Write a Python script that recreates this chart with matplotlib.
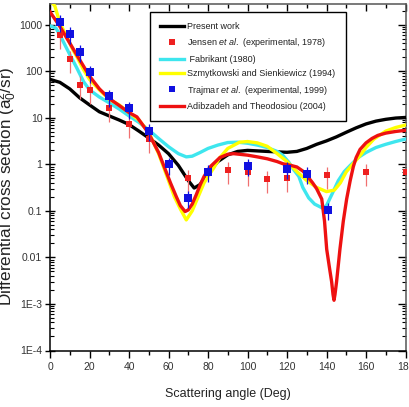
import matplotlib
matplotlib.use("Agg")
import matplotlib.pyplot as plt
from matplotlib.lines import Line2D
from matplotlib.ticker import LogLocator, FixedLocator, NullFormatter, MultipleLocator

plt.rcParams['font.family'] = ['Liberation Sans', 'DejaVu Sans']
plt.rcParams['mathtext.fontset'] = 'custom'
plt.rcParams['mathtext.rm'] = 'Liberation Sans'
plt.rcParams['mathtext.it'] = 'Liberation Sans:italic'

# ---- data ----
present_ang = [0, 5, 10, 15, 20, 25, 30, 35, 40, 45, 50, 55, 60, 65, 70, 73, 76, 80, 85, 90, 95,
               100, 110, 120, 125, 130, 135, 140, 145, 150, 155, 160, 165, 170, 175, 180]
present_val = [67, 58, 42, 27, 19, 13.5, 11, 9, 7.2, 5.2, 3.7, 2.6, 1.7, 0.95, 0.45, 0.31, 0.37, 0.65,
               1.15, 1.6, 1.9, 2.0, 1.9, 1.82, 1.9, 2.2, 2.7, 3.2, 3.9, 4.9, 6.1, 7.4, 8.5, 9.3, 9.9, 10.2]

fab_ang = [0, 3, 6, 10, 13.5, 17, 20, 25, 30, 35, 40, 45, 50, 55, 60, 65, 69, 72, 76, 80, 85, 90, 95,
           100, 105, 110, 115, 118, 121, 123, 126, 128, 131, 134, 138, 140, 143, 146, 149, 152, 156,
           160, 165, 170, 175, 180]
fab_val = [950, 850, 500, 230, 120, 60, 40, 28, 21, 15.5, 11, 8, 5.5, 3.6, 2.4, 1.7, 1.45, 1.5, 1.8,
           2.2, 2.6, 2.95, 3.0, 2.85, 2.6, 2.3, 1.9, 1.55, 1.1, 0.81, 0.55, 0.32, 0.19, 0.14, 0.115,
           0.13, 0.24, 0.45, 0.7, 0.95, 1.4, 1.8, 2.3, 2.7, 3.1, 3.5]

szm_ang = [0, 2.5, 5, 8.4, 11.8, 13.5, 16.9, 20, 25, 30, 35, 40, 45, 50, 55, 60, 63, 66, 69, 72, 75,
           78, 80, 83, 86, 90, 96, 100, 105, 110, 115, 120, 125, 130, 135, 140, 144, 147, 150, 154,
           157, 160, 164, 170, 175, 180]
szm_val = [3500, 2500, 1100, 560, 280, 210, 110, 67, 40, 25, 19, 13, 9, 4.9, 1.7, 0.45, 0.2, 0.11,
           0.064, 0.1, 0.2, 0.4, 0.55, 0.85, 1.4, 2.2, 3.0, 3.1, 2.9, 2.45, 1.7, 1.15, 0.7, 0.45, 0.32,
           0.26, 0.28, 0.4, 0.69, 1.1, 1.55, 2.3, 3.5, 5.2, 6.2, 7.0]

adi_ang = [0, 5, 10, 15, 20, 25, 30, 35, 40, 44, 47, 50, 55, 58, 61, 64, 66, 68.4, 70, 72, 74, 76,
           78, 81, 86, 90, 93, 100, 105, 110, 115, 118, 122, 125, 128, 130, 133, 135, 137.6, 139,
           140.1, 141.5, 142.6, 143.3, 143.8, 144.3, 145.1, 146, 146.8, 148.5, 150.2, 152, 153.6,
           155, 157, 160, 163, 166, 170, 175, 180]
adi_val = [1900, 920, 405, 178, 79, 42, 26, 18.5, 13, 10.5, 7, 4.6, 1.8, 0.85, 0.4, 0.2, 0.13, 0.097,
           0.105, 0.14, 0.22, 0.36, 0.55, 0.88, 1.4, 1.65, 1.7, 1.58, 1.45, 1.32, 1.15, 1.03, 0.95,
           0.88, 0.72, 0.58, 0.4, 0.3, 0.18, 0.06, 0.015, 0.006, 0.003, 0.0016, 0.0012, 0.0016,
           0.003, 0.007, 0.015, 0.06, 0.18, 0.45, 0.9, 1.4, 2.1, 2.9, 3.6, 4.2, 4.7, 5.1, 5.4]

jensen_ang = [5, 10, 15, 20, 30, 40, 50, 70, 90, 100, 110, 120, 140, 160, 180]
jensen_val = [590, 180, 52, 40, 16, 7.5, 3.5, 0.5, 0.74, 0.69, 0.48, 0.5, 0.6, 0.67, 0.67]
jensen_relerr = 0.5

trajmar_ang = [5, 10, 15, 20, 30, 40, 50, 60, 70, 80, 100, 120, 130, 141]
trajmar_val = [1150, 650, 265, 95, 29, 16, 5.3, 1.0, 0.19, 0.7, 0.92, 0.8, 0.63, 0.105]
trajmar_relerr = 0.4

labels = ["Present work",
          r"Jensen $\mathit{et\ al.}$ (experimental, 1978)",
          " Fabrikant (1980)",
          "Szmytkowski and Sienkiewicz (1994)",
          r"Trajmar $\mathit{et\ al.}$ (experimental, 1999)",
          "Adibzadeh and Theodosiou (2004)"]

yticks = [1e-4, 1e-3, 1e-2, 1e-1, 1, 10, 100, 1000]
yticklabels = ["1E-4", "1E-3", "0.01", "0.1", "1", "10", "100", "1000"]
xticks = [0, 20, 40, 60, 80, 100, 120, 140, 160, 180]

# ---- figure ----
fig = plt.figure(figsize=(4.09, 4.07), dpi=100)
ax = fig.add_axes([50 / 409, (407 - 350.5) / 407, 355.5 / 409, 346.5 / 407])

c_black = "#000000"
c_cyan = "#3ee6ee"
c_yellow = "#ffff00"
c_red = "#ee1111"
c_jensen = "#ee2020"
c_jensen_err = "#f07070"
c_blue = "#1010e0"

lw = 2.4
ax.plot(present_ang, present_val, color=c_black, lw=lw, zorder=3)
ax.plot(fab_ang, fab_val, color=c_cyan, lw=lw, zorder=3)
ax.plot(szm_ang, szm_val, color=c_yellow, lw=lw, zorder=3)
ax.plot(adi_ang, adi_val, color=c_red, lw=lw, zorder=4)

jerr = [v * jensen_relerr for v in jensen_val]
ax.errorbar(jensen_ang, jensen_val, yerr=jerr, fmt='s', color=c_jensen, ecolor=c_jensen_err,
            ms=5, mew=0, elinewidth=0.9, capsize=3, capthick=0.9, zorder=5, clip_on=True)
terr = [v * trajmar_relerr for v in trajmar_val]
ax.errorbar(trajmar_ang, trajmar_val, yerr=terr, fmt='s', color=c_blue, ecolor=c_blue,
            ms=5.5, mew=0, elinewidth=0.9, capsize=3, capthick=0.9, zorder=6)

ax.set_yscale('log')
ax.set_xlim(0, 180)
ax.set_ylim(1e-4, 2800)

ax.yaxis.set_major_locator(FixedLocator(yticks))
ax.set_yticklabels(yticklabels)
ax.yaxis.set_minor_locator(LogLocator(base=10, subs=range(2, 10), numticks=20))
ax.yaxis.set_minor_formatter(NullFormatter())
ax.xaxis.set_major_locator(FixedLocator(xticks))
ax.xaxis.set_minor_locator(MultipleLocator(10))

ax.tick_params(axis='x', which='major', direction='out', length=5, width=1, labelsize=7.5,
               labelcolor="#333333", pad=3)
ax.tick_params(axis='x', which='minor', direction='out', length=3, width=1)
ax.tick_params(axis='y', which='major', direction='inout', length=7, width=1, labelsize=7.5,
               labelcolor="#333333", pad=2)
ax.tick_params(axis='y', which='minor', direction='in', length=3, width=0.8)

for s in ax.spines.values():
    s.set_linewidth(1.1)
ax.spines['top'].set_color("#555555")
ax.spines['right'].set_color("#555555")

secx = ax.secondary_xaxis('top')
secx.xaxis.set_major_locator(FixedLocator(xticks))
secx.xaxis.set_minor_locator(MultipleLocator(10))
secx.tick_params(which='major', direction='in', length=5, width=1, labeltop=False)
secx.tick_params(which='minor', direction='in', length=3, width=1)
secx.spines['top'].set_visible(False)

secy = ax.secondary_yaxis('right')
secy.yaxis.set_major_locator(FixedLocator(yticks))
secy.yaxis.set_minor_locator(LogLocator(base=10, subs=range(2, 10), numticks=20))
secy.yaxis.set_minor_formatter(NullFormatter())
secy.tick_params(which='major', direction='in', length=6, width=1, labelright=False)
secy.tick_params(which='minor', direction='in', length=3, width=0.8, labelright=False)
secy.spines['right'].set_visible(False)

ax.set_xlabel("Scattering angle (Deg)", fontsize=9, labelpad=12, color="#222222")
ax.set_ylabel("Differential cross section (a$_0^2$/sr)", fontsize=12.3, color="#222222")
ax.yaxis.set_label_coords(-0.087, 0.475)

handles = [
    Line2D([], [], color=c_black, lw=lw),
    Line2D([], [], color=c_jensen, marker='s', ls='none', ms=5, mew=0),
    Line2D([], [], color=c_cyan, lw=lw),
    Line2D([], [], color=c_yellow, lw=lw),
    Line2D([], [], color=c_blue, marker='s', ls='none', ms=5, mew=0),
    Line2D([], [], color=c_red, lw=lw),
]
leg = ax.legend(handles, labels, loc='upper left', bbox_to_anchor=(150 / 409, 1 - 12 / 407),
                bbox_transform=fig.transFigure, borderaxespad=0, fontsize=6.5, frameon=True,
                fancybox=False, edgecolor='black', framealpha=1, handlelength=2.7,
                handletextpad=0.35, labelspacing=0.6, borderpad=1.1, numpoints=1)
leg.get_frame().set_linewidth(1.0)
for t in leg.get_texts():
    t.set_color("#222222")
leg.set_zorder(10)

fig.savefig("out.png", dpi=100)
